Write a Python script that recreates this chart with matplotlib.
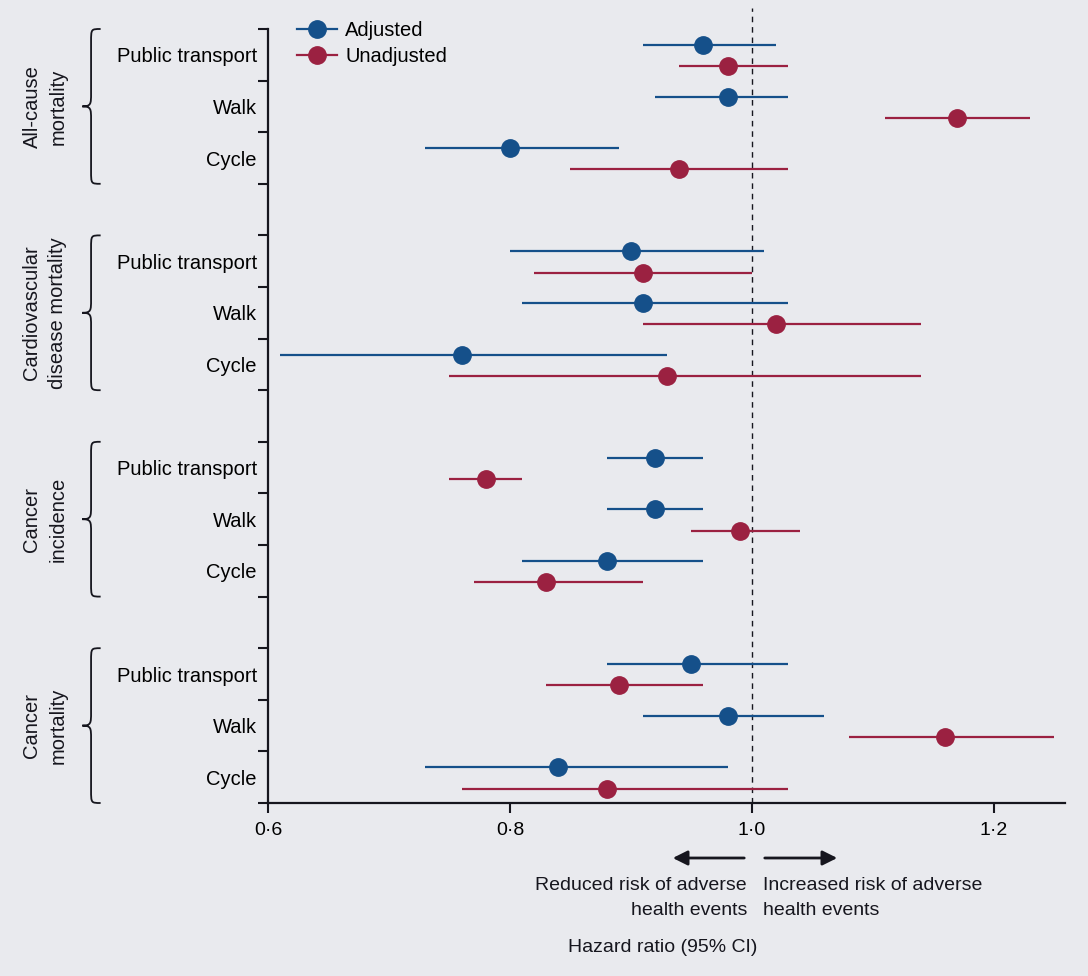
import matplotlib
matplotlib.use("Agg")
import matplotlib.pyplot as plt
from matplotlib.path import Path
from matplotlib.patches import PathPatch
from matplotlib.lines import Line2D

plt.rcParams['font.family'] = ['Liberation Sans', 'DejaVu Sans']

groups = ['All-cause\nmortality', 'Cardiovascular\ndisease mortality',
          'Cancer\nincidence', 'Cancer\nmortality']
modes = ['Public transport', 'Walk', 'Cycle']

# hazard ratios, rows = group x mode (PT, Walk, Cycle)
adj_hr = [0.96, 0.98, 0.80,
          0.90, 0.91, 0.76,
          0.92, 0.92, 0.88,
          0.95, 0.98, 0.84]
adj_lo = [0.91, 0.92, 0.73,
          0.80, 0.81, 0.61,
          0.88, 0.88, 0.81,
          0.88, 0.91, 0.73]
adj_hi = [1.02, 1.03, 0.89,
          1.01, 1.03, 0.93,
          0.96, 0.96, 0.96,
          1.03, 1.06, 0.98]

unadj_hr = [0.98, 1.17, 0.94,
            0.91, 1.02, 0.93,
            0.78, 0.99, 0.83,
            0.89, 1.16, 0.88]
unadj_lo = [0.94, 1.11, 0.85,
            0.82, 0.91, 0.75,
            0.75, 0.95, 0.77,
            0.83, 1.08, 0.76]
unadj_hi = [1.03, 1.23, 1.03,
            1.00, 1.14, 1.14,
            0.81, 1.04, 0.91,
            0.96, 1.25, 1.03]

xticks = [0.6, 0.8, 1.0, 1.2]
xticklabels = ['0\u00b76', '0\u00b78', '1\u00b70', '1\u00b72']

BLUE = '#15508a'
RED = '#9b2141'
INK = '#16161e'
BG = '#e9eaee'

W, H = 1088, 976
fig = plt.figure(figsize=(W / 100, H / 100), dpi=100, facecolor=BG)
ax = fig.add_axes([268 / W, 1 - 803 / H, (1065 - 268) / W, (803 - 29) / H])
ax.set_facecolor(BG)

# slot index: each group takes 3 rows plus one empty row
slots = [g * 4 + r for g in range(len(groups)) for r in range(len(modes))]
y_adj = [s + 0.31 for s in slots]
y_unadj = [s + 0.72 for s in slots]

ax.errorbar(adj_hr, y_adj,
            xerr=[[h - l for h, l in zip(adj_hr, adj_lo)],
                  [u - h for h, u in zip(adj_hr, adj_hi)]],
            fmt='o', color=BLUE, ms=12.5, elinewidth=1.6, capsize=0, zorder=3)
ax.errorbar(unadj_hr, y_unadj,
            xerr=[[h - l for h, l in zip(unadj_hr, unadj_lo)],
                  [u - h for h, u in zip(unadj_hr, unadj_hi)]],
            fmt='o', color=RED, ms=12.5, elinewidth=1.6, capsize=0, zorder=3)

ax.axvline(1.0, ymin=0, ymax=1.027, color=INK, lw=1.0, dashes=(4, 3.5),
           clip_on=False, zorder=1)

ax.set_xlim(0.6, 1.259)
ax.set_ylim(15, 0)

ax.set_xticks(xticks)
ax.set_xticklabels(xticklabels, fontsize=14)
ax.set_yticks(range(16))
ax.set_yticklabels([])
ax.set_yticks([s + 0.5 for s in slots], minor=True)
ax.set_yticklabels(modes * len(groups), minor=True, fontsize=14.5)
ax.tick_params(axis='y', which='major', length=7.5, width=1.5, color=INK)
ax.tick_params(axis='y', which='minor', length=0, pad=8)
ax.tick_params(axis='x', length=7.5, width=1.5, color=INK, pad=6)

for side in ['top', 'right']:
    ax.spines[side].set_visible(False)
for side in ['left', 'bottom']:
    ax.spines[side].set_linewidth(1.6)
    ax.spines[side].set_color(INK)

# braces and group labels
ytr = ax.get_yaxis_transform()
xt, xm, xp = -0.210, -0.222, -0.233
for g, name in enumerate(groups):
    y0 = g * 4
    y1 = y0 + 3
    yc = (y0 + y1) / 2
    d = 0.25
    verts = [(xt, y0), (xm, y0), (xm, y0), (xm, y0 + d),
             (xm, yc - d),
             (xm, yc - 0.05), (xm, yc), (xp, yc),
             (xm, yc), (xm, yc + 0.05), (xm, yc + d),
             (xm, y1 - d),
             (xm, y1), (xm, y1), (xt, y1)]
    codes = [Path.MOVETO, Path.CURVE4, Path.CURVE4, Path.CURVE4,
             Path.LINETO,
             Path.CURVE4, Path.CURVE4, Path.CURVE4,
             Path.CURVE4, Path.CURVE4, Path.CURVE4,
             Path.LINETO,
             Path.CURVE4, Path.CURVE4, Path.CURVE4]
    ax.add_patch(PathPatch(Path(verts, codes), transform=ytr, fill=False,
                           lw=1.3, edgecolor=INK, clip_on=False))
    ax.text(-0.280, yc, name, transform=ytr, rotation=90, ha='center',
            va='center', fontsize=14.5, linespacing=1.45, color=INK)

handles = [Line2D([], [], color=BLUE, marker='o', ms=12.5, lw=1.6),
           Line2D([], [], color=RED, marker='o', ms=12.5, lw=1.6)]
ax.legend(handles, ['Adjusted', 'Unadjusted'], loc='upper left',
          bbox_to_anchor=(0.036, 1.01), frameon=False, fontsize=14.5,
          handlelength=2.0, handletextpad=0.4, labelspacing=0.35,
          borderpad=0, borderaxespad=0)


def px(x, y):
    return x / W, 1 - y / H


ax.annotate('', xy=px(670, 858), xytext=px(747, 858), xycoords='figure fraction',
            arrowprops=dict(arrowstyle='-|>', color=INK, lw=2, mutation_scale=22))
ax.annotate('', xy=px(840, 858), xytext=px(762, 858), xycoords='figure fraction',
            arrowprops=dict(arrowstyle='-|>', color=INK, lw=2, mutation_scale=22))

fig.text(*px(747, 898), 'Reduced risk of adverse\nhealth events', ha='right',
         va='center', multialignment='right', fontsize=14, linespacing=1.6,
         color=INK)
fig.text(*px(763, 898), 'Increased risk of adverse\nhealth events', ha='left',
         va='center', multialignment='left', fontsize=14, linespacing=1.6,
         color=INK)
fig.text(*px(663, 947), 'Hazard ratio (95% CI)', ha='center', va='center',
         fontsize=14, color=INK)

fig.savefig('out.png', dpi=100, facecolor=BG)
